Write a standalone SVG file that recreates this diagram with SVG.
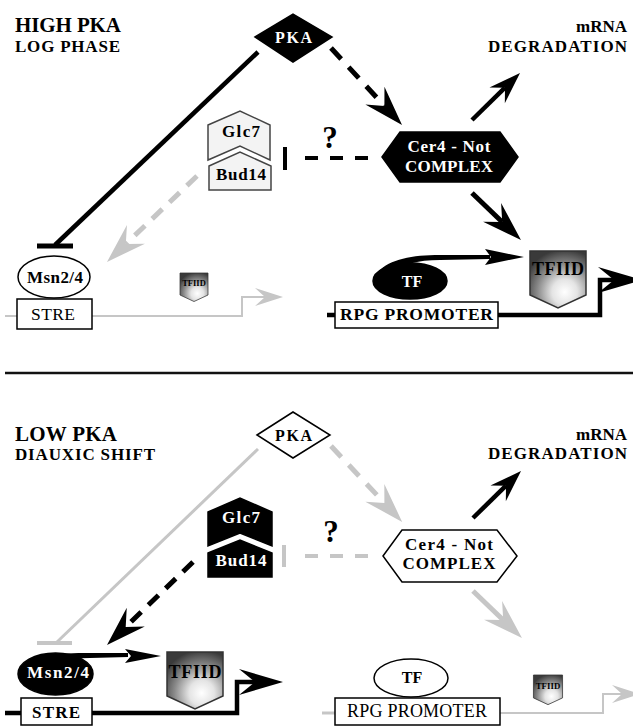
<svg xmlns="http://www.w3.org/2000/svg" width="633" height="728" viewBox="0 0 633 728">
<style>
.t{font-family:"Liberation Serif","Times New Roman",serif;font-weight:bold;fill:#000}
.n{font-weight:normal}
.w{fill:#fff}
.c{text-anchor:middle}
.e{text-anchor:end}
.box{fill:#fff;stroke:#000;stroke-width:1.5}
.blk{fill:#000;stroke:#000;stroke-width:1.5}
.lt{fill:#f3f3f3;stroke:#444;stroke-width:1.5}
.shield{fill:url(#metal);stroke:#333;stroke-width:1.5}
.k{stroke:#000;fill:none}
.g{stroke:#c6c6c6;fill:none}
</style>
<defs>
<radialGradient id="metal" cx="0.62" cy="0.72" r="0.75" fx="0.62" fy="0.72">
<stop offset="0" stop-color="#ffffff"/>
<stop offset="0.3" stop-color="#e4e4e4"/>
<stop offset="0.65" stop-color="#8a8a8a"/>
<stop offset="1" stop-color="#3a3a3a"/>
</radialGradient>
<path id="shieldShape" d="M-28,0 H28 V44 L0,57 L-28,44 Z"/>
<marker id="mBigK" markerUnits="userSpaceOnUse" markerWidth="44" markerHeight="30" viewBox="-42 -15 44 30" refX="-26" refY="0" orient="auto"><path d="M0,0 L-40,-13 L-26,0 L-40,13 Z" fill="#000"/></marker>
<marker id="mBigG" markerUnits="userSpaceOnUse" markerWidth="44" markerHeight="30" viewBox="-42 -15 44 30" refX="-26" refY="0" orient="auto"><path d="M0,0 L-40,-13 L-26,0 L-40,13 Z" fill="#c6c6c6"/></marker>
<marker id="mMedK" markerUnits="userSpaceOnUse" markerWidth="36" markerHeight="26" viewBox="-34 -13 36 26" refX="-21" refY="0" orient="auto"><path d="M0,0 L-32,-11 L-21,0 L-32,11 Z" fill="#000"/></marker>
<marker id="mPromK" markerUnits="userSpaceOnUse" markerWidth="48" markerHeight="30" viewBox="-46 -15 48 30" refX="-28" refY="0" orient="auto"><path d="M0,0 L-44,-13 L-28,0 L-44,13 Z" fill="#000"/></marker>
<marker id="mPromG" markerUnits="userSpaceOnUse" markerWidth="32" markerHeight="22" viewBox="-30 -11 32 22" refX="-18" refY="0" orient="auto"><path d="M0,0 L-28,-9 L-18,0 L-28,9 Z" fill="#c6c6c6"/></marker>
</defs>
<rect width="633" height="728" fill="#fff"/>

<!-- ===== TOP PANEL ===== -->
<g id="title-top">
<text class="t" x="15" y="32" font-size="21" textLength="106">HIGH PKA</text>
<text class="t" x="15" y="52" font-size="17" textLength="105">LOG PHASE</text>
</g>
<g id="mrna-top">
<text class="t e" x="627" y="32" font-size="17">mRNA</text>
<text class="t e" x="627" y="52" font-size="17" textLength="139">DEGRADATION</text>
</g>

<g id="connectors-top">
<line class="k" x1="258" y1="52" x2="55" y2="245" stroke-width="4.5"/>
<line class="k" x1="37" y1="246" x2="73" y2="246" stroke-width="5"/>
<line class="k" x1="331" y1="48" x2="384.4" y2="105.9" stroke-width="5" stroke-dasharray="15 11" marker-end="url(#mBigK)"/>
<line class="k" x1="472" y1="120" x2="505" y2="87.7" stroke-width="4.5" marker-end="url(#mMedK)"/>
<line class="k" x1="472" y1="193" x2="502.2" y2="222" stroke-width="5" marker-end="url(#mBigK)"/>
<line class="g" x1="197" y1="176" x2="125.8" y2="244" stroke-width="5" stroke-dasharray="14 10" marker-end="url(#mBigG)"/>
<line class="k" x1="285" y1="147" x2="285" y2="170" stroke-width="4"/>
<line class="k" x1="305" y1="158" x2="372" y2="158" stroke-width="4" stroke-dasharray="13 12"/>
<path class="g" d="M5,316 H17 M92,316 H242 V297 H265" stroke-width="2" marker-end="url(#mPromG)"/>
<path class="k" d="M327,315 H335" stroke-width="4.5"/>
<path class="k" d="M498,315 H600 V280 H614" stroke-width="4.5" marker-end="url(#mPromK)"/>
</g>

<g id="pka-top">
<polygon class="blk" points="255,37 293,14 332,37 293,62"/>
<text class="t w c" x="293.5" y="43" font-size="16" textLength="37">PKA</text>
</g>
<g id="q-top"><text class="t c" x="330" y="148" font-size="31">?</text></g>
<g id="glc7-top">
<polygon class="lt" points="208,125 240,111 270,125 270,160 240,146 208,160"/>
<text class="t c" x="241" y="137" font-size="17" textLength="38">Glc7</text>
</g>
<g id="bud14-top">
<polygon class="lt" points="209,166 240,152 271,166 271,190 209,190"/>
<text class="t c" x="241" y="180" font-size="17" textLength="50">Bud14</text>
</g>
<g id="cer4-top">
<polygon class="blk" points="382,157 400,132 500,132 518,157 500,182 400,182"/>
<text class="t w c" x="449" y="152" font-size="17" textLength="83">Cer4 - Not</text>
<text class="t w c" x="449" y="172" font-size="17" textLength="88">COMPLEX</text>
</g>
<g id="msn-top">
<ellipse class="box" cx="54" cy="277" rx="36" ry="21"/>
<text class="t c" x="55" y="283" font-size="17" textLength="56">Msn2/4</text>
</g>
<g id="stre-top">
<rect class="box" x="17" y="299" width="75" height="30"/>
<text class="t n c" x="53" y="320" font-size="17.5" textLength="44">STRE</text>
</g>
<g id="tfiid-small-top" transform="translate(194,273) scale(0.5)">
<use href="#shieldShape" class="shield"/>
<text class="t c" x="0" y="26" font-size="17">TFIID</text>
</g>
<g id="tf-top">
<ellipse class="blk" cx="410" cy="281" rx="37" ry="18"/>
<path d="M378,272 C390,259 412,255 440,255 L490,255 L490,259 L440,260 C418,260 400,264 388,276 Z" fill="#000"/>
<path d="M485,249 L524,257 L485,265 L491,257 Z" fill="#000"/>
<text class="t w c" x="412" y="287" font-size="16">TF</text>
</g>
<g id="rpg-top">
<rect class="box" x="335" y="302" width="163" height="26"/>
<text class="t c" x="416.5" y="320" font-size="17.5" textLength="153">RPG PROMOTER</text>
</g>
<g id="tfiid-top" transform="translate(558,251)">
<use href="#shieldShape" class="shield"/>
<text class="t c" x="0" y="24" font-size="18" textLength="52">TFIID</text>
</g>

<!-- divider -->
<line x1="5" y1="373" x2="633" y2="373" stroke="#111" stroke-width="2.5"/>

<!-- ===== BOTTOM PANEL ===== -->
<g id="title-bottom">
<text class="t" x="15" y="441" font-size="21" textLength="102">LOW PKA</text>
<text class="t" x="15" y="460" font-size="17" textLength="140">DIAUXIC SHIFT</text>
</g>
<g id="mrna-bottom">
<text class="t e" x="627" y="440" font-size="17">mRNA</text>
<text class="t e" x="627" y="459" font-size="17" textLength="139">DEGRADATION</text>
</g>

<g id="connectors-bottom">
<line class="g" x1="258" y1="449" x2="57" y2="642" stroke-width="3"/>
<line class="g" x1="37" y1="643" x2="72" y2="643" stroke-width="4"/>
<line class="g" x1="331" y1="446" x2="384.4" y2="503" stroke-width="5" stroke-dasharray="15 11" marker-end="url(#mBigG)"/>
<line class="k" x1="473" y1="518" x2="506" y2="485.7" stroke-width="4.5" marker-end="url(#mMedK)"/>
<line class="g" x1="473" y1="591" x2="503.2" y2="620" stroke-width="5" marker-end="url(#mBigG)"/>
<line class="k" x1="193" y1="562" x2="125.7" y2="626.9" stroke-width="5" stroke-dasharray="14 10" marker-end="url(#mBigK)"/>
<line class="g" x1="284" y1="545" x2="284" y2="567" stroke-width="4"/>
<line class="g" x1="305" y1="556" x2="372" y2="556" stroke-width="4" stroke-dasharray="13 12"/>
<path class="k" d="M5,713 H21 M92,713 H237 V682 H255" stroke-width="4.5" marker-end="url(#mPromK)"/>
<path class="g" d="M322,713 H335" stroke-width="3"/>
<path class="g" d="M500,713 H603 V694 H622" stroke-width="2" marker-end="url(#mPromG)"/>
</g>

<g id="pka-bottom">
<polygon class="box" points="257,435 293,412 330,435 293,458"/>
<text class="t c" x="293.5" y="441" font-size="16" textLength="37">PKA</text>
</g>
<g id="q-bottom"><text class="t c" x="331" y="542" font-size="31">?</text></g>
<g id="glc7-bottom">
<polygon class="blk" points="208,512 240,498 272,512 272,546 240,533 208,546"/>
<text class="t w c" x="241" y="523" font-size="17" textLength="38">Glc7</text>
</g>
<g id="bud14-bottom">
<polygon class="blk" points="208,553 240,540 272,553 272,577 208,577"/>
<text class="t w c" x="241" y="566" font-size="17" textLength="51">Bud14</text>
</g>
<g id="cer4-bottom">
<polygon class="box" points="383,556 402,530 497,530 517,556 497,582 402,582"/>
<text class="t c" x="449" y="550" font-size="17" textLength="88">Cer4 - Not</text>
<text class="t c" x="449" y="569" font-size="17" textLength="93">COMPLEX</text>
</g>
<g id="msn-bottom">
<ellipse class="blk" cx="55.5" cy="674" rx="37.5" ry="21"/>
<path d="M23,665 C34,655 58,653 90,653 L128,653 L128,657 L90,658 C64,658 44,662 32,673 Z" fill="#000"/>
<path d="M125,649 L161,656 L125,663 L131,656 Z" fill="#000"/>
<text class="t w c" x="58" y="678" font-size="17" textLength="62">Msn2/4</text>
</g>
<g id="tfiid-bottom" transform="translate(195,652)">
<use href="#shieldShape" class="shield"/>
<text class="t c" x="0" y="26" font-size="18" textLength="53">TFIID</text>
</g>
<g id="stre-bottom">
<rect class="box" x="21" y="698" width="71" height="27"/>
<text class="t c" x="56" y="718" font-size="17" textLength="48">STRE</text>
</g>
<g id="tf-bottom">
<ellipse class="box" cx="411" cy="678" rx="37" ry="19"/>
<text class="t c" x="412" y="683" font-size="16">TF</text>
</g>
<g id="rpg-bottom">
<rect class="box" x="335" y="698" width="165" height="27"/>
<text class="t n c" x="417" y="717" font-size="18" textLength="140">RPG PROMOTER</text>
</g>
<g id="tfiid-small-bottom" transform="translate(548,675) scale(0.52)">
<use href="#shieldShape" class="shield"/>
<text class="t c" x="0" y="26" font-size="17">TFIID</text>
</g>
</svg>
